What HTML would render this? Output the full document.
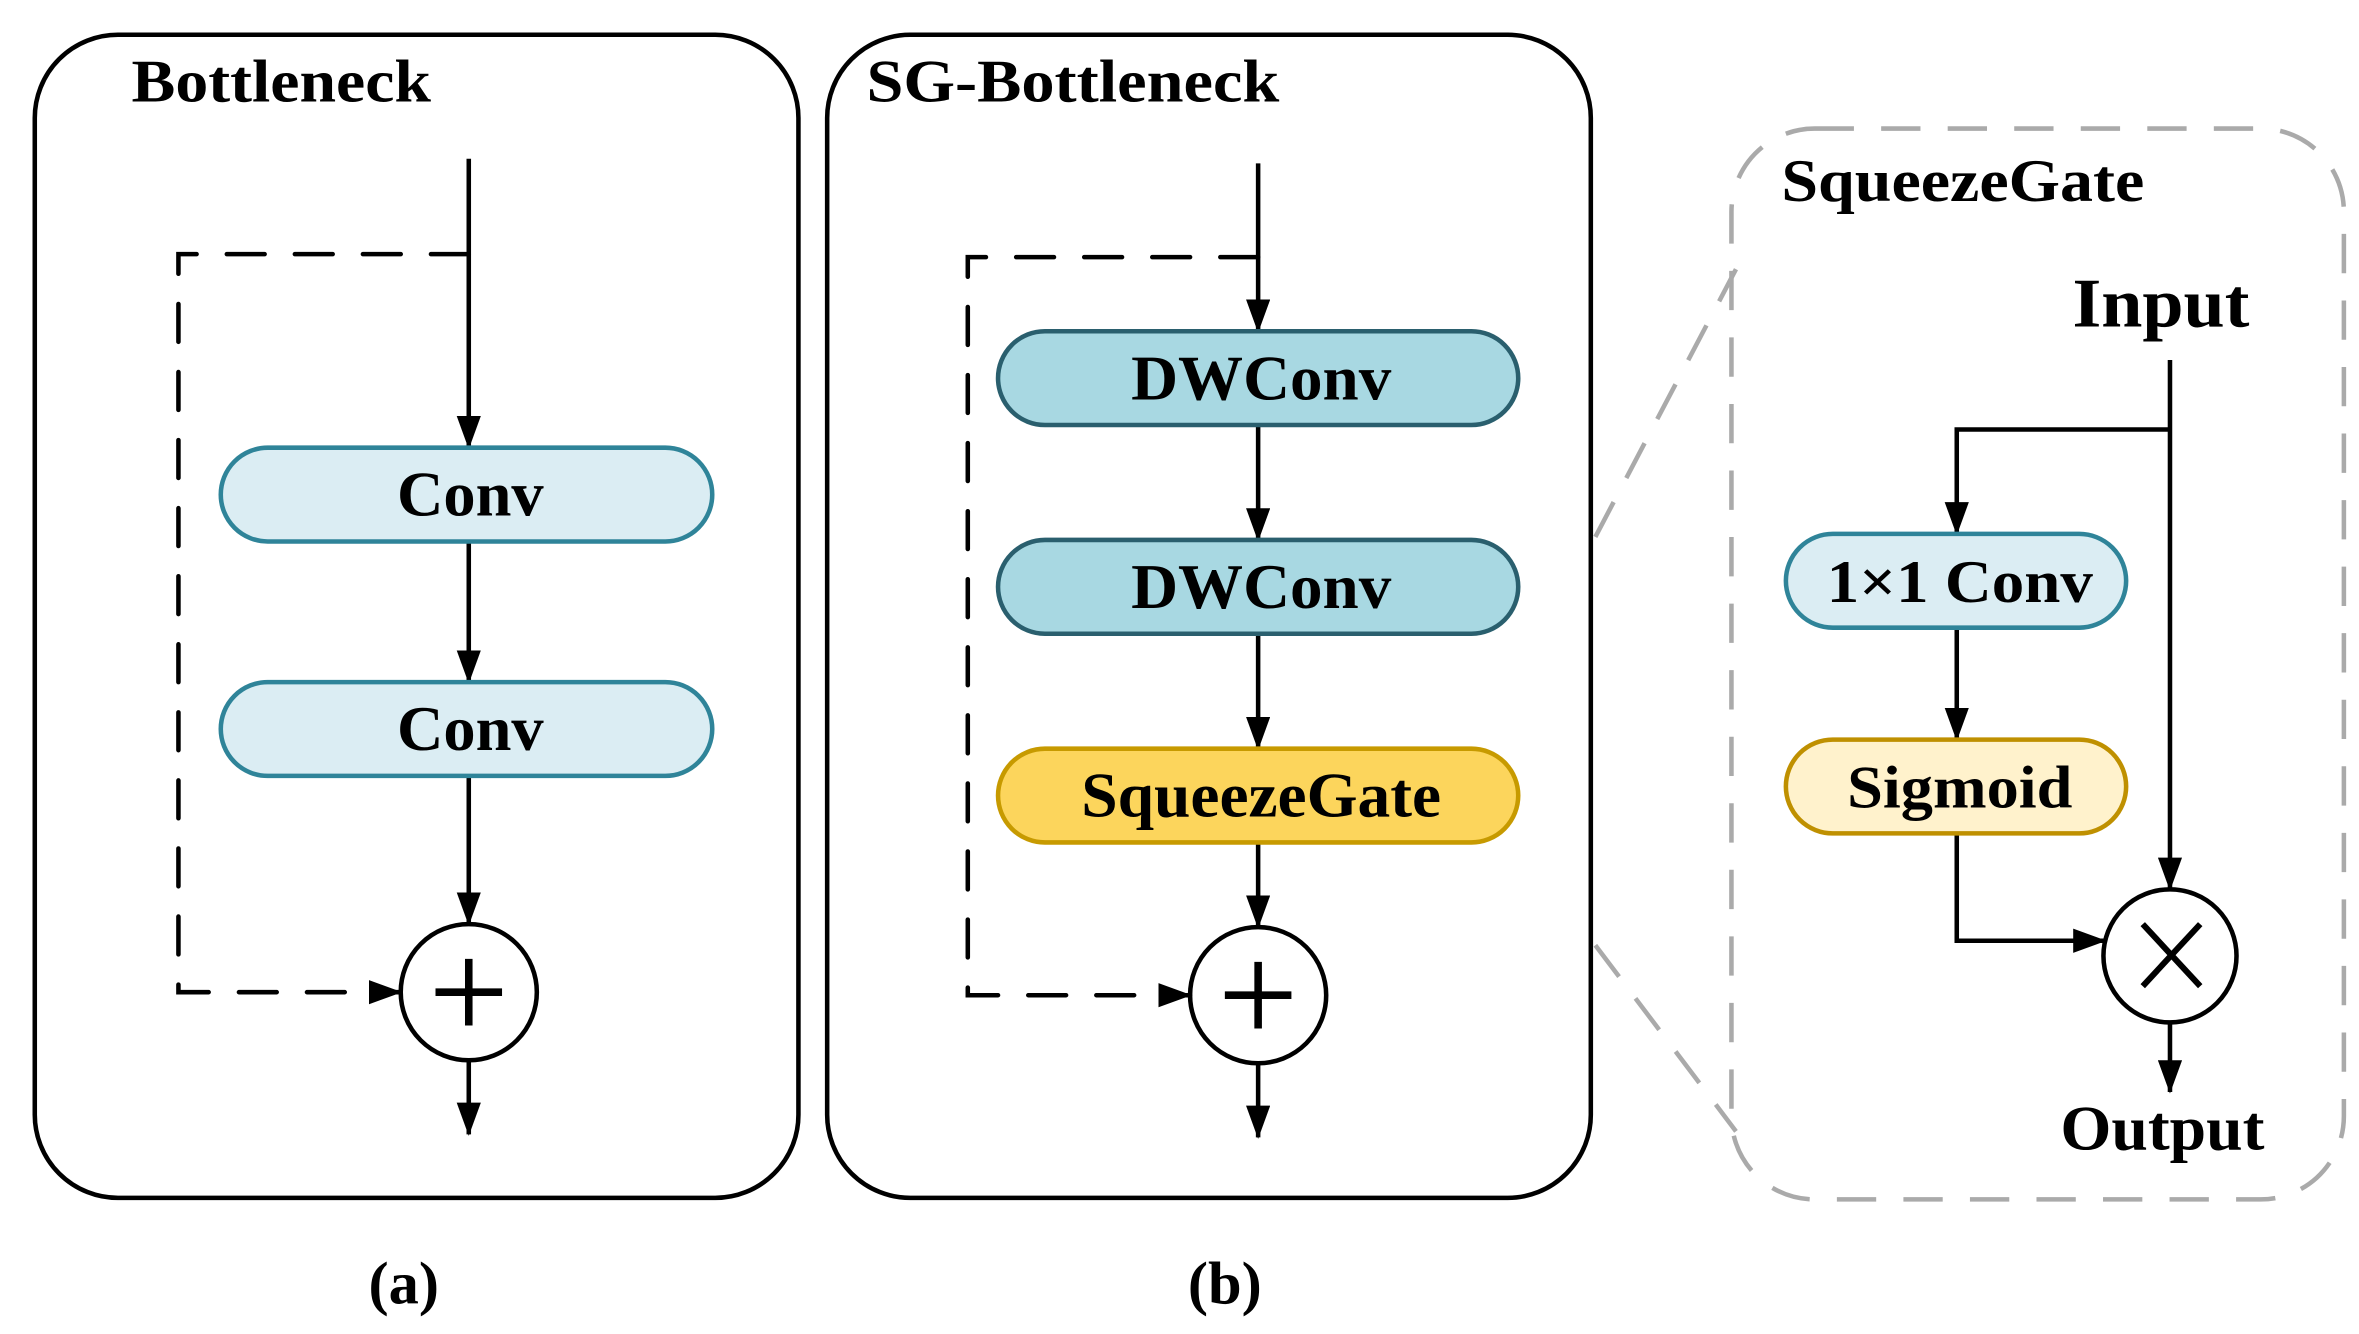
<!DOCTYPE html>
<html><head><meta charset="utf-8"><style>html,body{margin:0;padding:0;background:#fff}svg{display:block}text{font-family:"Liberation Serif",serif;font-weight:bold;fill:#000}</style></head><body>
<svg width="2359" height="1334" viewBox="0 0 1560 882" preserveAspectRatio="none" xmlns="http://www.w3.org/2000/svg">
<defs><marker id="ar" viewBox="0 0 22 16" refX="21" refY="8" markerWidth="22" markerHeight="16" markerUnits="userSpaceOnUse" orient="auto"><path d="M0,0 L22,8 L0,16z" fill="#000"/></marker></defs>
<g fill="none" stroke="#000" stroke-width="3">
<rect x="23" y="23" width="505" height="769" rx="55"/>
<rect x="547" y="23" width="505" height="769" rx="55"/>
</g>
<rect x="1145" y="85" width="405" height="708" rx="55" fill="none" stroke="#aaa" stroke-width="3" stroke-dasharray="26,18"/>
<g stroke="#aaa" stroke-width="3" stroke-dasharray="26,18"><line x1="1055" y1="355" x2="1148" y2="178"/><line x1="1055" y1="625" x2="1148" y2="748"/></g>
<text x="87" y="67" font-size="40" textLength="198" lengthAdjust="spacingAndGlyphs">Bottleneck</text>
<text x="573" y="67" font-size="40" textLength="273" lengthAdjust="spacingAndGlyphs">SG-Bottleneck</text>
<text x="1178" y="133" font-size="40" textLength="240" lengthAdjust="spacingAndGlyphs">SqueezeGate</text>
<g stroke="#000" stroke-width="3" fill="none">
<line x1="310" y1="105" x2="310" y2="296" marker-end="url(#ar)"/>
<line x1="310" y1="358" x2="310" y2="451" marker-end="url(#ar)"/>
<line x1="310" y1="513" x2="310" y2="611" marker-end="url(#ar)"/>
<line x1="310" y1="701" x2="310" y2="750" marker-end="url(#ar)"/>
<polyline points="310,168 118,168 118,656 265,656" stroke-dasharray="25,20" stroke-linecap="round" marker-end="url(#ar)"/>
<line x1="832" y1="108" x2="832" y2="219" marker-end="url(#ar)"/>
<line x1="832" y1="281" x2="832" y2="357" marker-end="url(#ar)"/>
<line x1="832" y1="419" x2="832" y2="495" marker-end="url(#ar)"/>
<line x1="832" y1="557" x2="832" y2="613" marker-end="url(#ar)"/>
<line x1="832" y1="703" x2="832" y2="752" marker-end="url(#ar)"/>
<polyline points="832,170 640,170 640,658 787,658" stroke-dasharray="25,20" stroke-linecap="round" marker-end="url(#ar)"/>
<line x1="1435" y1="238" x2="1435" y2="588" marker-end="url(#ar)"/>
<polyline points="1435,284 1294,284 1294,353" marker-end="url(#ar)"/>
<line x1="1294" y1="415" x2="1294" y2="489" marker-end="url(#ar)"/>
<polyline points="1294,551 1294,622 1392,622" marker-end="url(#ar)"/>
<line x1="1435" y1="676" x2="1435" y2="722" marker-end="url(#ar)"/>
<circle cx="310" cy="656" r="45"/><line x1="288" y1="656" x2="332" y2="656" stroke-width="5"/><line x1="310" y1="634" x2="310" y2="678" stroke-width="5"/>
<circle cx="832" cy="658" r="45"/><line x1="810" y1="658" x2="854" y2="658" stroke-width="5"/><line x1="832" y1="636" x2="832" y2="680" stroke-width="5"/>
<circle cx="1435" cy="632" r="44"/><line x1="1417" y1="611" x2="1455" y2="652" stroke-width="4"/><line x1="1455" y1="611" x2="1417" y2="652" stroke-width="4"/>
</g>
<g stroke-width="3">
<rect x="146" y="296" width="325" height="62" rx="31" fill="#dbedf3" stroke="#2f8499"/>
<rect x="146" y="451" width="325" height="62" rx="31" fill="#dbedf3" stroke="#2f8499"/>
<rect x="660" y="219" width="344" height="62" rx="31" fill="#a8d8e2" stroke="#2a5f6e"/>
<rect x="660" y="357" width="344" height="62" rx="31" fill="#a8d8e2" stroke="#2a5f6e"/>
<rect x="660" y="495" width="344" height="62" rx="31" fill="#fcd55c" stroke="#c79a00"/>
<rect x="1181" y="353" width="225" height="62" rx="31" fill="#dbedf3" stroke="#2f8499"/>
<rect x="1181" y="489" width="225" height="62" rx="31" fill="#fff2cc" stroke="#bf9000"/>
</g>
<g text-anchor="middle" font-size="42" lengthAdjust="spacingAndGlyphs">
<text x="311" y="341" textLength="97" lengthAdjust="spacingAndGlyphs">Conv</text>
<text x="311" y="496" textLength="97" lengthAdjust="spacingAndGlyphs">Conv</text>
<text x="834" y="264" textLength="172" lengthAdjust="spacingAndGlyphs">DWConv</text>
<text x="834" y="402" textLength="172" lengthAdjust="spacingAndGlyphs">DWConv</text>
<text x="834" y="540" textLength="238" lengthAdjust="spacingAndGlyphs">SqueezeGate</text>
<text x="1296" y="398" font-size="40" textLength="176" lengthAdjust="spacingAndGlyphs">1×1 Conv</text>
<text x="1296" y="534" font-size="40" textLength="149" lengthAdjust="spacingAndGlyphs">Sigmoid</text>
<text x="1429" y="216" font-size="46" textLength="117" lengthAdjust="spacingAndGlyphs">Input</text>
<text x="1430" y="760" font-size="42" textLength="135" lengthAdjust="spacingAndGlyphs">Output</text>
<text x="267" y="862" font-size="40" font-weight="normal">(<tspan font-weight="bold">a</tspan>)</text>
<text x="810" y="862" font-size="40" font-weight="normal">(<tspan font-weight="bold">b</tspan>)</text>
</g>
</svg>
</body></html>
